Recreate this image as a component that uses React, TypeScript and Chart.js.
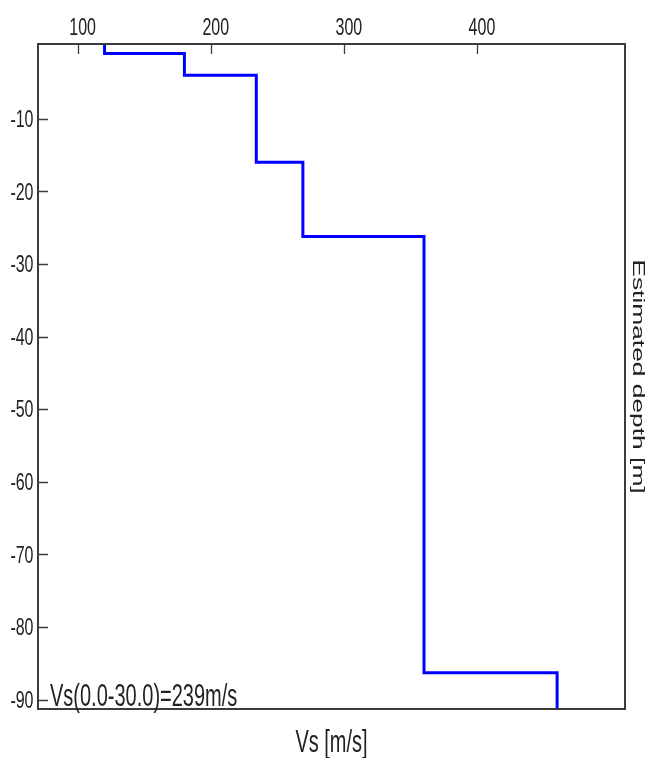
import React, { useEffect, useRef } from 'react';
import { Chart, registerables } from 'chart.js';

Chart.register(...registerables);

// ---- data ----
const velocities = [120, 180, 234, 269, 360, 460];
const layerBounds = [0.3, -1, -4, -16, -26.2, -86.3, -91.3];
const xTicks = [100, 200, 300, 400];
const yTicks = [-10, -20, -30, -40, -50, -60, -70, -80, -90];
const xRange = [70, 511];
const yRange = [-91.3, 0.3];
const xTitle = 'Vs [m/s]';
const yTitle = 'Estimated depth [m]';
const note = 'Vs(0.0-30.0)=239m/s';

const W = 654;
const H = 758;
const TEXT_COLOR = '#222222';
const FRAME_COLOR = '#3c3c3c';
const STRETCH = 1.55;
const TICK_STRETCH = 1.48;
const FONT = '"Liberation Sans", Arial, sans-serif';

function stretchedText(ctx: any, text: string, x: number, y: number, sx: number, sy: number) {
  ctx.save();
  ctx.translate(x, y);
  ctx.scale(sx, sy);
  ctx.fillText(text, 0, 0);
  ctx.restore();
}

const decorPlugin = {
  id: 'decor',
  afterDraw(chart: any) {
    const { ctx, chartArea: a, scales } = chart;
    const xs = scales.x;
    const ys = scales.y;
    ctx.save();
    // frame
    ctx.strokeStyle = FRAME_COLOR;
    ctx.lineWidth = 2;
    ctx.strokeRect(a.left, a.top, a.right - a.left, a.bottom - a.top);
    // inward tick marks
    ctx.lineWidth = 1.3;
    ctx.beginPath();
    xs.ticks.forEach((t: any) => {
      const px = Math.round(xs.getPixelForValue(t.value)) + 0.5;
      ctx.moveTo(px, a.top);
      ctx.lineTo(px, a.top + 10);
    });
    ys.ticks.forEach((t: any) => {
      const py = Math.round(ys.getPixelForValue(t.value)) + 0.5;
      ctx.moveTo(a.left, py);
      ctx.lineTo(a.left + 10, py);
    });
    ctx.stroke();

    ctx.fillStyle = TEXT_COLOR;
    ctx.textBaseline = 'alphabetic';

    // tick labels (positions from the library's scales)
    ctx.font = '16px ' + FONT;
    ctx.textAlign = 'center';
    xs.ticks.forEach((t: any) => {
      const px = xs.getPixelForValue(t.value);
      stretchedText(ctx, String(t.value), px + 4.7, a.top - 9, 1, TICK_STRETCH);
    });
    ctx.textAlign = 'right';
    ys.ticks.forEach((t: any) => {
      const py = ys.getPixelForValue(t.value);
      stretchedText(ctx, String(t.value), a.left - 4.5, py + 8.3, 1, TICK_STRETCH);
    });

    // annotation
    ctx.font = '20px ' + FONT;
    ctx.textAlign = 'left';
    stretchedText(ctx, note, a.left + 12, a.bottom - 3, 1, STRETCH);
    // bottom title
    ctx.textAlign = 'center';
    stretchedText(ctx, xTitle, (a.left + a.right) / 2, 752, 1, STRETCH);
    // right title (rotated clockwise)
    ctx.font = '17px ' + FONT;
    ctx.save();
    ctx.translate(633, (a.top + a.bottom) / 2);
    ctx.rotate(Math.PI / 2);
    ctx.scale(STRETCH, 1);
    ctx.fillText(yTitle, 0, 0);
    ctx.restore();
    ctx.restore();
  },
};

export default function App() {
  const ref = useRef<HTMLCanvasElement | null>(null);

  useEffect(() => {
    document.body.style.margin = '0';
    const canvas = ref.current;
    if (!canvas) return;

    const points: { x: number; y: number }[] = [];
    velocities.forEach((v, i) => {
      points.push({ x: v, y: layerBounds[i] });
      points.push({ x: v, y: layerBounds[i + 1] });
    });

    const chart = new Chart(canvas, {
      type: 'line',
      data: {
        datasets: [
          {
            data: points,
            borderColor: '#0000ff',
            borderWidth: 3,
            pointRadius: 0,
            tension: 0,
            fill: false,
            borderJoinStyle: 'miter',
          },
        ],
      },
      options: {
        responsive: false,
        animation: false,
        layout: { padding: { left: 0, top: 0, right: 29, bottom: 49 } },
        plugins: { legend: { display: false }, tooltip: { enabled: false }, title: { display: false } },
        scales: {
          x: {
            type: 'linear',
            position: 'top',
            min: xRange[0],
            max: xRange[1],
            grid: { display: false },
            border: { display: false },
            ticks: { display: false, autoSkip: false },
            afterBuildTicks: (s: any) => {
              s.ticks = xTicks.map((v) => ({ value: v }));
            },
            afterFit: (s: any) => {
              s.height = 44;
            },
          },
          y: {
            type: 'linear',
            min: yRange[0],
            max: yRange[1],
            grid: { display: false },
            border: { display: false },
            ticks: { display: false, autoSkip: false },
            afterBuildTicks: (s: any) => {
              s.ticks = yTicks.map((v) => ({ value: v }));
            },
            afterFit: (s: any) => {
              s.width = 38;
            },
          },
        },
      },
      plugins: [decorPlugin],
    });
    return () => chart.destroy();
  }, []);

  return (
    <div style={{ position: 'absolute', left: 0, top: 0, width: W, height: H, background: '#ffffff' }}>
      <canvas ref={ref} width={W} height={H} style={{ display: 'block' }} />
    </div>
  );
}
